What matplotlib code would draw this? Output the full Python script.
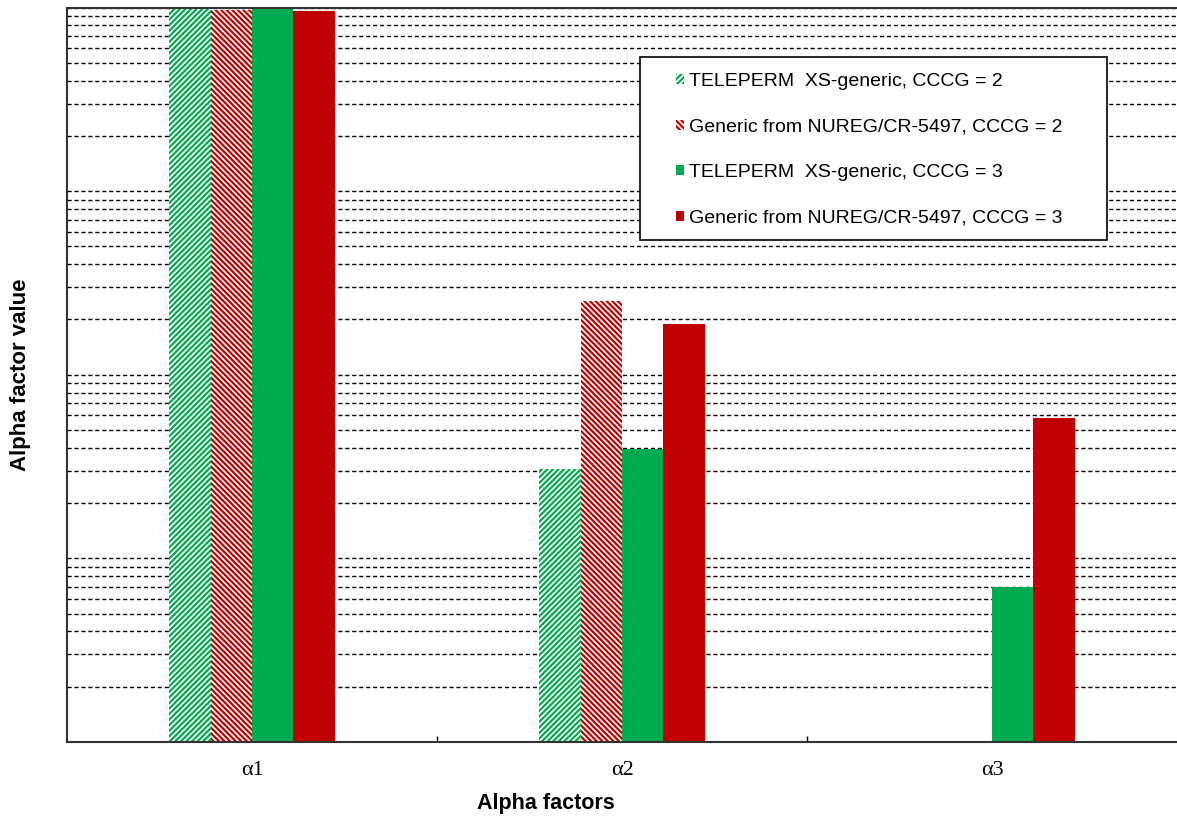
import numpy as np
import matplotlib.pyplot as plt
from matplotlib.patches import Rectangle
from matplotlib.ticker import LogLocator, NullFormatter

plt.rcParams['font.family'] = ['Liberation Sans', 'DejaVu Sans']
plt.rcParams['hatch.linewidth'] = 1.6

categories = ['\u03b11', '\u03b12', '\u03b13']
series_names = ['TELEPERM  XS-generic, CCCG = 2',
                'Generic from NUREG/CR-5497, CCCG = 2',
                'TELEPERM  XS-generic, CCCG = 3',
                'Generic from NUREG/CR-5497, CCCG = 3']
txs_cccg2 = [0.995, 3.06e-3, np.nan]
nureg_cccg2 = [0.975, 2.52e-2, np.nan]
txs_cccg3 = [0.995, 3.95e-3, 7.0e-4]
nureg_cccg3 = [0.96, 1.88e-2, 5.8e-3]

green = '#00AA4E'
red = '#C00000'

W, H = 1177, 819
fig = plt.figure(figsize=(W / 100, H / 100), dpi=100)
ax = fig.add_axes([67/W, 1 - 742/H, 1 - 67/W, (742 - 7.5)/H])

x = np.arange(len(categories))
w = 0.112
styles = [
    dict(color='white', edgecolor=green, hatch='//////', lw=0),
    dict(color='white', edgecolor=red, hatch='\\\\\\\\\\\\', lw=0),
    dict(color=green, lw=0),
    dict(color=red, lw=0),
]
data = [txs_cccg2, nureg_cccg2, txs_cccg3, nureg_cccg3]
for i, (vals, st, name) in enumerate(zip(data, styles, series_names)):
    ax.bar(x + (i - 1.5) * w, vals, w, label=name, zorder=2, **st)

ax.set_yscale('log')
ax.set_ylim(1e-4, 1)
ax.set_xlim(-0.5, 2.5)
ax.yaxis.set_major_locator(LogLocator(base=10, numticks=10))
ax.yaxis.set_minor_locator(LogLocator(base=10, subs=np.arange(2, 10), numticks=20))
ax.yaxis.set_minor_formatter(NullFormatter())
ax.tick_params(axis='y', which='both', length=0, labelleft=False)
ax.grid(True, axis='y', which='both', color='black', ls=(0, (3, 2)), lw=1.0)
ax.set_axisbelow(True)

ax.set_xticks(x)
ax.set_xticklabels(categories, fontfamily=['Liberation Serif', 'DejaVu Serif'], fontsize=16)
ax.set_xticks([0.5, 1.5], minor=True)
ax.tick_params(axis='x', which='major', length=0, pad=14)
ax.tick_params(axis='x', which='minor', length=4, direction='in', width=1)

for side in ['left', 'bottom', 'top']:
    ax.spines[side].set_linewidth(1.5)
    ax.spines[side].set_color('#333333')
ax.spines['right'].set_visible(False)

fig.text(546/W, 1 - 804/H, 'Alpha factors', ha='center', va='center',
         fontsize=15.5, fontweight='bold')
fig.text(21/W, 1 - 375/H, 'Alpha factor value', ha='center', va='center',
         rotation=90, fontsize=16, fontweight='bold')

# legend frame drawn separately so its padding can match the original
frame = Rectangle((640/W, 1 - 240/H), (1107 - 640)/W, (240 - 57)/H,
                  transform=fig.transFigure, facecolor='white',
                  edgecolor='black', lw=1.2, zorder=5, clip_on=False)
ax.add_patch(frame)
leg = ax.legend(loc='upper left', bbox_to_anchor=(676/W, 1 - 73/H),
                bbox_transform=fig.transFigure, borderaxespad=0, borderpad=0,
                fontsize=14, frameon=False,
                handlelength=0.42, handleheight=0.42, handletextpad=0.25,
                labelspacing=1.47)
leg.set_zorder(6)

fig.savefig('out.png', dpi=100)
